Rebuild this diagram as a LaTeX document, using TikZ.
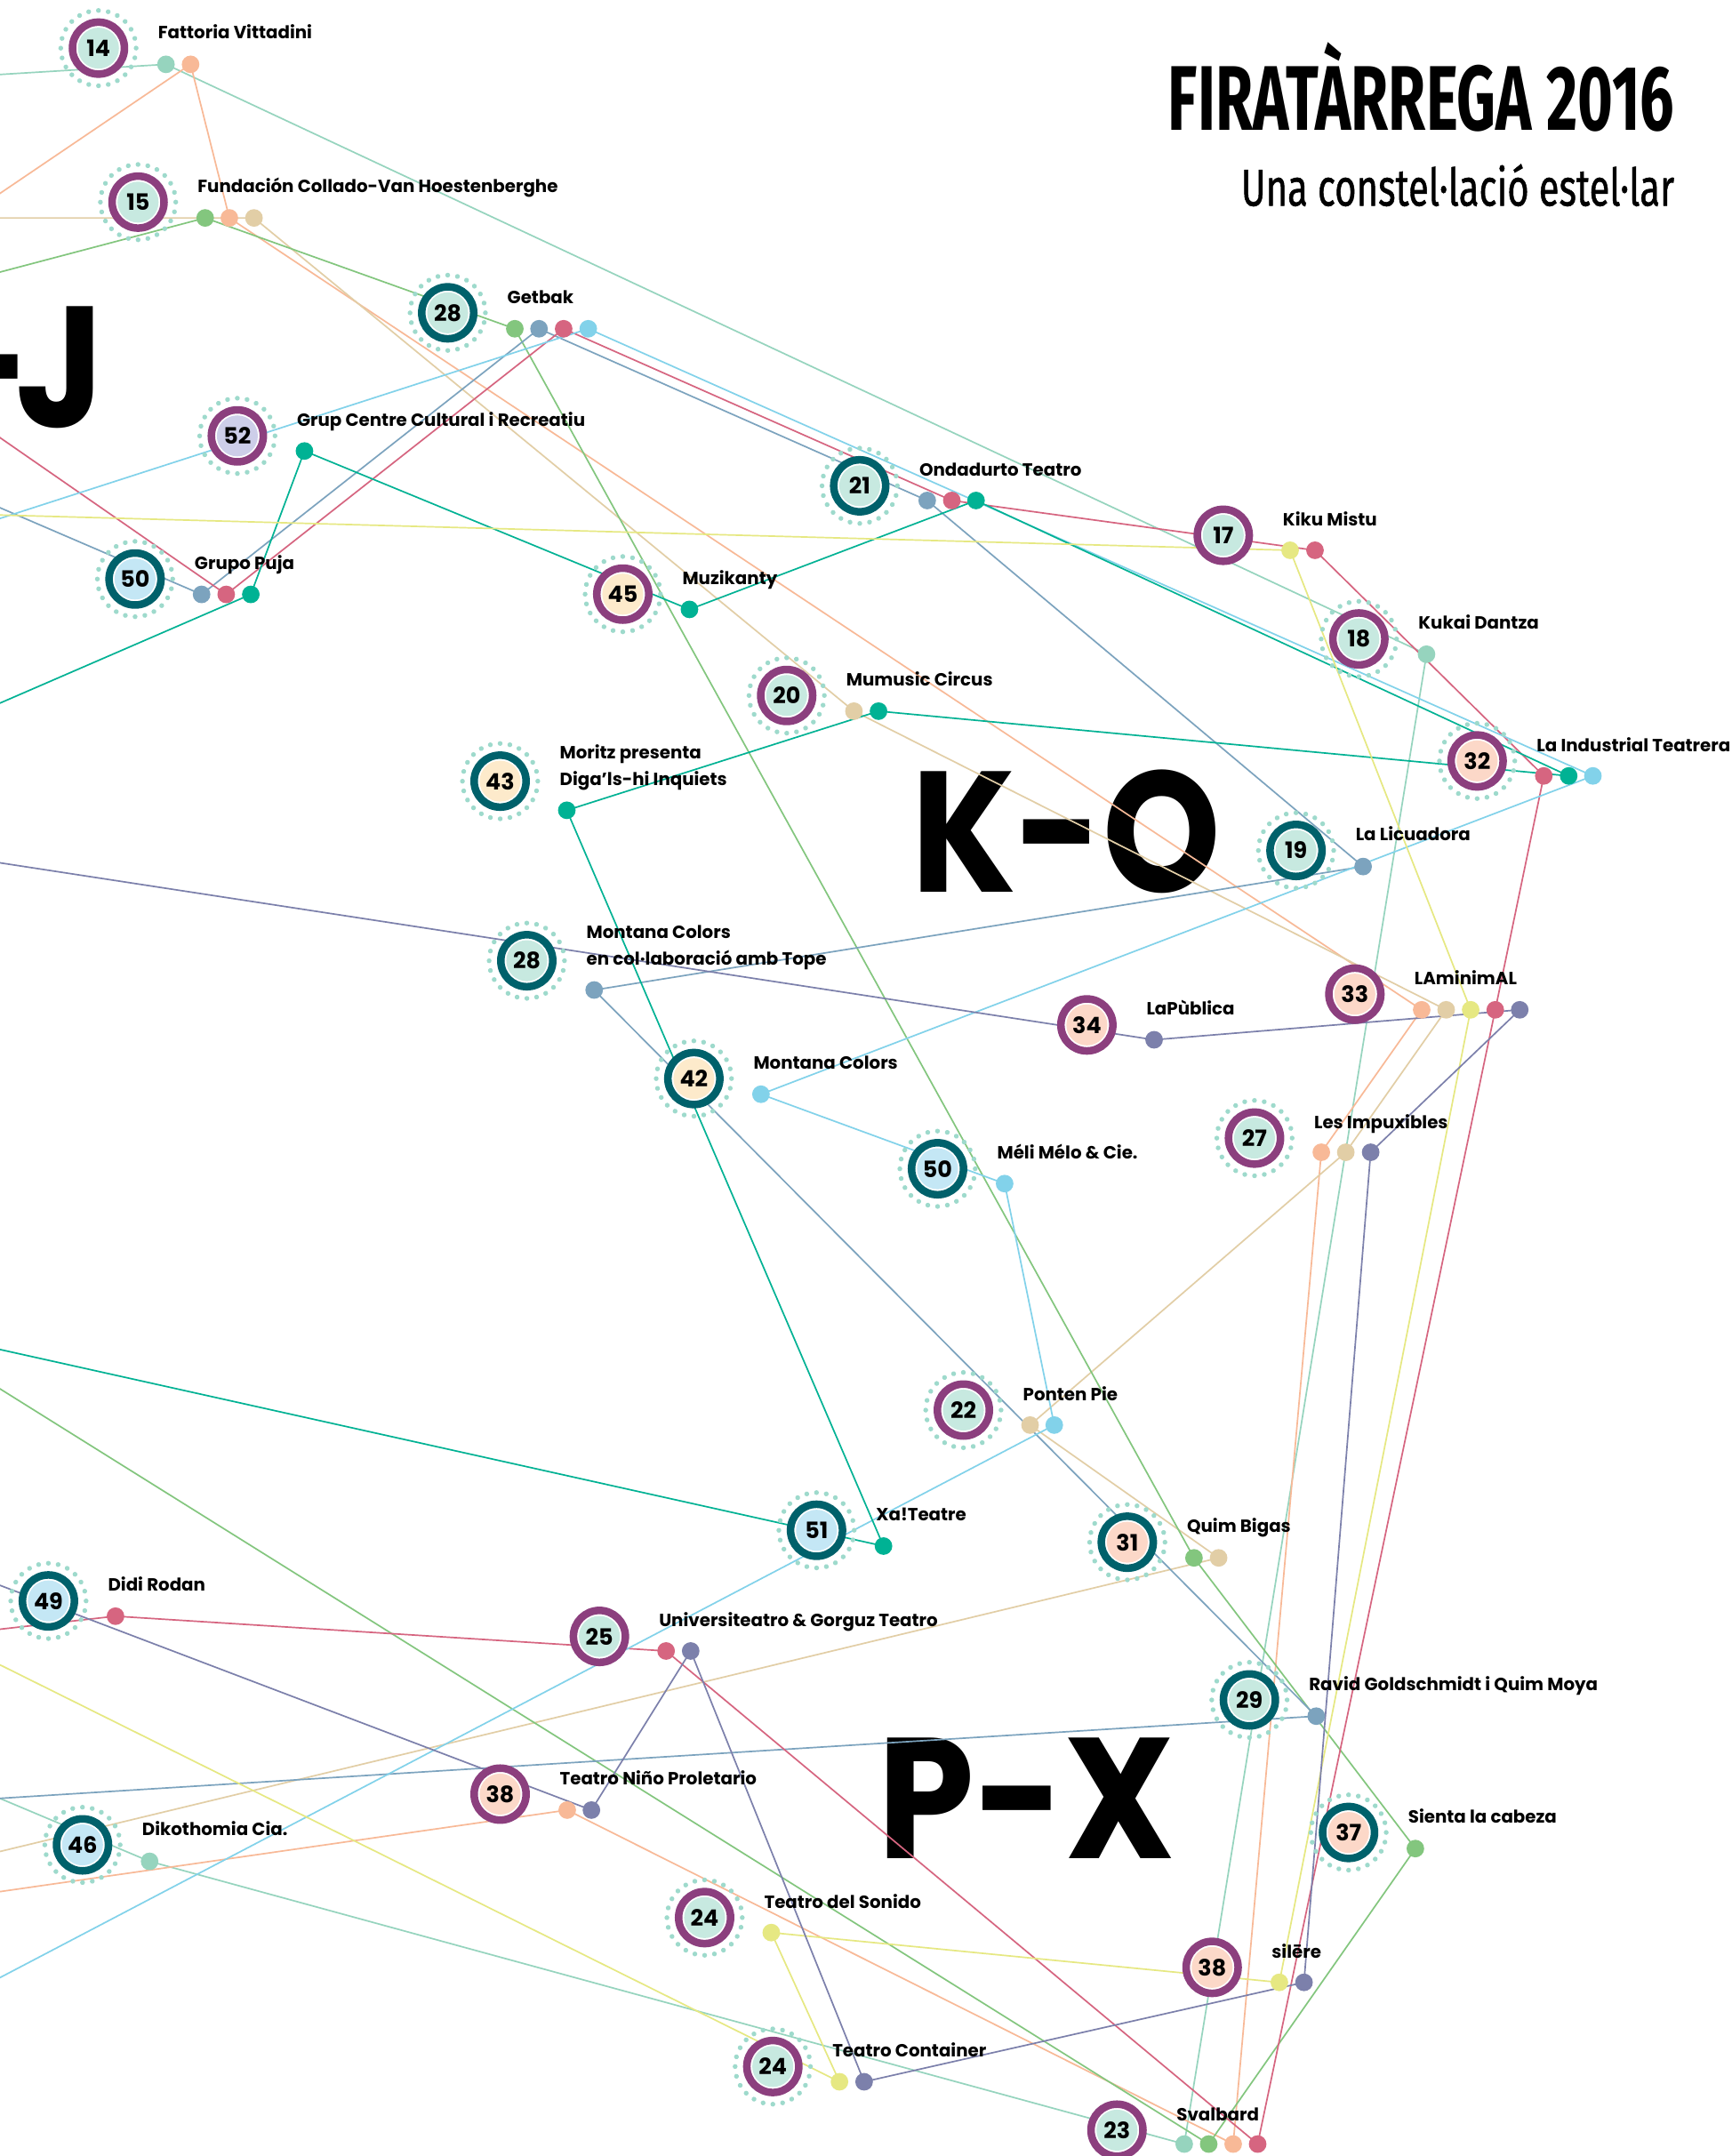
\documentclass[tikz,border=0pt]{standalone}
\usepackage{fontspec}
\usepackage{graphicx}
\setmainfont{Poppins}
\newfontfamily\titlefont{Fira Sans}
\newfontfamily\subfont[FakeBold=1]{Fira Sans}
\definecolor{ringP}{RGB}{140,63,126}
\definecolor{ringT}{RGB}{0,97,107}
\definecolor{paleT}{RGB}{199,233,224}
\definecolor{paleB}{RGB}{196,231,245}
\definecolor{paleP}{RGB}{252,216,200}
\definecolor{paleY}{RGB}{253,234,203}
\definecolor{paleL}{RGB}{205,206,233}
\definecolor{haloC}{RGB}{158,218,204}
\definecolor{cMint}{RGB}{150,212,190}
\definecolor{cPeach}{RGB}{248,185,151}
\definecolor{cTan}{RGB}{226,206,166}
\definecolor{cGreen}{RGB}{131,198,126}
\definecolor{cSlate}{RGB}{124,163,190}
\definecolor{cPink}{RGB}{214,101,128}
\definecolor{cLblue}{RGB}{130,210,234}
\definecolor{cTeal}{RGB}{0,178,148}
\definecolor{cYellow}{RGB}{230,232,130}
\definecolor{cPurple}{RGB}{124,128,171}
\pgfdeclarelayer{letters}
\pgfdeclarelayer{lines}
\pgfsetlayers{letters,lines,main}
\tikzset{
  stn/.style 2 args={circle, inner sep=0pt, minimum size=18.9pt, line width=2.75pt,
    draw=#1, fill=white, font=\bfseries\fontsize{8.2pt}{8.2pt}\selectfont,
    path picture={\fill[#2] (path picture bounding box.center) circle (7.45pt);}},
  halo/.style={circle, inner sep=0pt, minimum size=27.4pt, draw=haloC, line width=1.75pt,
    line cap=round, dash pattern=on 0.01pt off 3.5766pt},
  dot/.style={circle, inner sep=0pt, minimum size=6.4pt, fill=#1, draw=none},
  lbl/.style={anchor=base west, inner sep=0pt, font=\bfseries\fontsize{6.4pt}{7pt}\selectfont},
  ln/.style={draw=#1, line width=0.55pt},
  big/.style={inner sep=0pt, font=\bfseries\fontsize{62.5pt}{62.5pt}\selectfont},
}
\newcommand\Station[7]{\node[stn={#5}{#6}] (#1) at (#2,#3) {#4};
  \node[lbl] (#1-l) at (#2+43,#3-7) {#7};}
\newcommand\StationII[8]{\node[stn={#5}{#6}] (#1) at (#2,#3) {#4};
  \node[lbl] (#1-l) at (#2+43,#3-16) {#7};
  \node[lbl] (#1-m) at (#2+43,#3+3) {#8};}
\newcommand\HaloAt[3]{\node[halo] (#1-h) at (#2,#3) {};}
\begin{document}
\begin{tikzpicture}[x=0.5pt,y=-0.5pt]
\useasboundingbox (0,0) rectangle (1259,1568);
\begin{pgfonlayer}{letters}
\fill[white] (0,0) rectangle (1259,1568);
\node[big, anchor=base east] (bigJ) at (76.5,310.6) {\scalebox{0.9}[1]{-\kern-6.5pt J}};
\node[big, anchor=base] (bigKO) at (775.5,649) {\scalebox{0.872}[1]{K-O}};
\node[big, anchor=base] (bigPX) at (746.5,1352) {\scalebox{0.9}[1]{P-X}};
\end{pgfonlayer}
% title
\node[anchor=base east, inner sep=0pt] (title) at (1218,94.6)
  {\titlefont\bfseries\fontsize{33.4pt}{34pt}\selectfont\resizebox{184pt}{\height}{FIRATÀRREGA 2016}};
\node[anchor=base east, inner sep=0pt] (subtitle) at (1218,149.6)
  {\subfont\fontsize{18.9pt}{19pt}\selectfont\resizebox{157.5pt}{\height}{Una constel·lació estel·lar}};
% halos
\HaloAt{s14}{71.6}{35.0}
\HaloAt{s15}{100.4}{147.0}
\HaloAt{s28g}{325.6}{227.5}
\HaloAt{s52}{172.6}{317.0}
\HaloAt{s50g}{98.2}{421.1}
\HaloAt{s45}{452.9}{432.1}
\HaloAt{s21}{625.2}{353.3}
\HaloAt{s18}{988.2}{464.7}
\HaloAt{s20}{572.1}{505.8}
\HaloAt{s32}{1074.2}{553.4}
\HaloAt{s43}{363.7}{568.1}
\HaloAt{s19}{942.5}{618.5}
\HaloAt{s28m}{383.1}{698.7}
\HaloAt{s42}{504.6}{784.4}
\HaloAt{s50m}{681.8}{850}
\HaloAt{s27}{912.3}{827.7}
\HaloAt{s22}{700.6}{1025.5}
\HaloAt{s51}{593.8}{1112.9}
\HaloAt{s31}{819.8}{1121.6}
\HaloAt{s49}{35.2}{1164.3}
\HaloAt{s29}{908.6}{1236.3}
\HaloAt{s46}{60}{1341.7}
\HaloAt{s37}{980.7}{1332.7}
\HaloAt{s24s}{512.4}{1394.6}
\HaloAt{s24c}{562}{1502.9}
% stations
\Station{s14}{71.6}{35.0}{14}{ringP}{paleT}{Fattoria Vittadini}
\Station{s15}{100.4}{147.0}{15}{ringP}{paleT}{Fundación Collado-Van Hoestenberghe}
\Station{s28g}{325.6}{227.5}{28}{ringT}{paleT}{Getbak}
\Station{s52}{172.6}{317.0}{52}{ringP}{paleL}{Grup Centre Cultural i Recreatiu}
\Station{s50g}{98.2}{421.1}{50}{ringT}{paleB}{Grupo Puja}
\Station{s45}{452.9}{432.1}{45}{ringP}{paleY}{Muzikanty}
\Station{s21}{625.2}{353.3}{21}{ringT}{paleT}{Ondadurto Teatro}
\Station{s17}{889.6}{389.3}{17}{ringP}{paleT}{Kiku Mistu}
\Station{s18}{988.2}{464.7}{18}{ringP}{paleT}{Kukai Dantza}
\Station{s20}{572.1}{505.8}{20}{ringP}{paleT}{Mumusic Circus}
\Station{s32}{1074.2}{553.4}{32}{ringP}{paleP}{La Industrial Teatrera}
\StationII{s43}{363.7}{568.1}{43}{ringT}{paleY}{Moritz presenta}{Diga’ls-hi Inquiets}
\Station{s19}{942.5}{618.5}{19}{ringT}{paleT}{La Licuadora}
\StationII{s28m}{383.1}{698.7}{28}{ringT}{paleT}{Montana Colors}{en col·laboració amb Tope}
\Station{s34}{790.4}{745.4}{34}{ringP}{paleP}{LaPùblica}
\Station{s33}{985.3}{723}{33}{ringP}{paleP}{LAminimAL}
\Station{s42}{504.6}{784.4}{42}{ringT}{paleY}{Montana Colors}
\Station{s50m}{681.8}{850}{50}{ringT}{paleB}{Méli Mélo \& Cie.}
\Station{s27}{912.3}{827.7}{27}{ringP}{paleT}{Les Impuxibles}
\Station{s22}{700.6}{1025.5}{22}{ringP}{paleT}{Ponten Pie}
\Station{s51}{593.8}{1112.9}{51}{ringT}{paleB}{Xa!Teatre}
\Station{s31}{819.8}{1121.6}{31}{ringT}{paleP}{Quim Bigas}
\Station{s49}{35.2}{1164.3}{49}{ringT}{paleB}{Didi Rodan}
\Station{s25}{435.9}{1190.1}{25}{ringP}{paleT}{Universiteatro \& Gorguz Teatro}
\Station{s29}{908.6}{1236.3}{29}{ringT}{paleT}{Ravid Goldschmidt i Quim Moya}
\Station{s38n}{363.7}{1304.8}{38}{ringP}{paleP}{Teatro Niño Proletario}
\Station{s46}{60}{1341.7}{46}{ringT}{paleB}{Dikothomia Cia.}
\Station{s37}{980.7}{1332.7}{37}{ringT}{paleP}{Sienta la cabeza}
\Station{s24s}{512.4}{1394.6}{24}{ringP}{paleT}{Teatro del Sonido}
\Station{s38s}{881.5}{1430.8}{38}{ringP}{paleP}{silēre}
\Station{s24c}{562}{1502.9}{24}{ringP}{paleT}{Teatro Container}
\Station{s23}{812.3}{1549.2}{23}{ringP}{paleT}{Svalbard}
% dots
\node[dot=cMint] (s14a) at (120.7,46.8) {};
\node[dot=cPeach] (s14b) at (138.6,46.8) {};
\node[dot=cGreen] (s15a) at (149.2,158.5) {};
\node[dot=cPeach] (s15b) at (166.8,158.5) {};
\node[dot=cTan] (s15c) at (184.7,158.5) {};
\node[dot=cGreen] (s28ga) at (374.4,239.1) {};
\node[dot=cSlate] (s28gb) at (392,239.1) {};
\node[dot=cPink] (s28gc) at (409.9,239.1) {};
\node[dot=cLblue] (s28gd) at (427.8,239.1) {};
\node[dot=cTeal] (s52a) at (221.4,328) {};
\node[dot=cSlate] (s50ga) at (146.6,432.3) {};
\node[dot=cPink] (s50gb) at (164.5,432.3) {};
\node[dot=cTeal] (s50gc) at (182.4,432.3) {};
\node[dot=cTeal] (s45a) at (501.4,443.2) {};
\node[dot=cSlate] (s21a) at (674.3,364) {};
\node[dot=cPink] (s21b) at (692.2,364) {};
\node[dot=cTeal] (s21c) at (709.8,364) {};
\node[dot=cYellow] (s17a) at (938.2,400.2) {};
\node[dot=cPink] (s17b) at (956.3,400.2) {};
\node[dot=cMint] (s18a) at (1037.4,475.8) {};
\node[dot=cTan] (s20a) at (621,517.2) {};
\node[dot=cTeal] (s20b) at (638.9,517.2) {};
\node[dot=cPink] (s32a) at (1122.7,564.3) {};
\node[dot=cTeal] (s32b) at (1140.8,564.3) {};
\node[dot=cLblue] (s32c) at (1158.4,564.3) {};
\node[dot=cTeal] (s43a) at (412.2,589.3) {};
\node[dot=cSlate] (s19a) at (991.3,630.2) {};
\node[dot=cSlate] (s28ma) at (432.1,720) {};
\node[dot=cPurple] (s34a) at (839.3,756.2) {};
\node[dot=cPeach] (s33a) at (1033.9,734.4) {};
\node[dot=cTan] (s33b) at (1051.7,734.4) {};
\node[dot=cYellow] (s33c) at (1069.5,734.4) {};
\node[dot=cPink] (s33d) at (1087.4,734.4) {};
\node[dot=cPurple] (s33e) at (1105.2,734.4) {};
\node[dot=cLblue] (s42a) at (553.4,795.8) {};
\node[dot=cLblue] (s50ma) at (730.6,860.8) {};
\node[dot=cPeach] (s27a) at (960.9,838) {};
\node[dot=cTan] (s27b) at (978.7,838) {};
\node[dot=cPurple] (s27c) at (996.8,838) {};
\node[dot=cTan] (s22a) at (749.1,1036.4) {};
\node[dot=cLblue] (s22b) at (766.7,1036.4) {};
\node[dot=cTeal] (s51a) at (642.5,1124.4) {};
\node[dot=cGreen] (s31a) at (868.3,1133) {};
\node[dot=cTan] (s31b) at (886.2,1133) {};
\node[dot=cPink] (s49a) at (84,1175.4) {};
\node[dot=cPink] (s25a) at (484.4,1200.7) {};
\node[dot=cPurple] (s25b) at (502.3,1200.7) {};
\node[dot=cSlate] (s29a) at (957.2,1248.1) {};
\node[dot=cPeach] (s38na) at (412.5,1316.4) {};
\node[dot=cPurple] (s38nb) at (430.1,1316.4) {};
\node[dot=cMint] (s46a) at (108.8,1353.7) {};
\node[dot=cGreen] (s37a) at (1029.3,1344.4) {};
\node[dot=cYellow] (s24sa) at (560.9,1405.5) {};
\node[dot=cYellow] (s38sa) at (930.4,1441.7) {};
\node[dot=cPurple] (s38sb) at (948.3,1441.7) {};
\node[dot=cYellow] (s24ca) at (610.5,1514) {};
\node[dot=cPurple] (s24cb) at (628.4,1514) {};
\node[dot=cMint] (s23a) at (861.2,1559.3) {};
\node[dot=cGreen] (s23b) at (879,1559.3) {};
\node[dot=cPeach] (s23c) at (896.8,1559.3) {};
\node[dot=cPink] (s23d) at (914.6,1559.3) {};
% connectors
\begin{pgfonlayer}{lines}
\coordinate (eMintA) at (-2,54.3);
\coordinate (eMintB) at (-2,1307.1);
\coordinate (ePeachA) at (-2,142.0);
\coordinate (ePeachB) at (-2,1376.0);
\coordinate (eTanA) at (-2,158.5);
\coordinate (eTanB) at (-2,1347.0);
\coordinate (eGreenA) at (-2,198.4);
\coordinate (eGreenB) at (-2,1008.8);
\coordinate (eSlateA) at (-2,368.4);
\coordinate (eSlateB) at (-2,1308.0);
\coordinate (ePinkA) at (-2,316.9);
\coordinate (ePinkB) at (-2,1185.1);
\coordinate (eLblueA) at (-2,377.7);
\coordinate (eLblueB) at (-2,1439.3);
\coordinate (eTealA) at (-2,512.2);
\coordinate (eTealB) at (-2,981.0);
\coordinate (eYellowA) at (-2,374.5);
\coordinate (eYellowB) at (-2,1209.8);
\coordinate (ePurpleA) at (-2,627.2);
\coordinate (ePurpleB) at (-2,1152.2);
\draw[ln=cMint] (eMintA) -- (s14a.center) -- (s18a.center) -- (s23a.center);
\draw[ln=cMint] (eMintB) -- (s46a.center) -- (s23a.center);
\draw[ln=cPeach] (ePeachA) -- (s14b.center) -- (s15b.center) -- (s33a.center) -- (s27a.center) -- (s23c.center);
\draw[ln=cPeach] (ePeachB) -- (s38na.center) -- (s23c.center);
\draw[ln=cTan] (eTanA) -- (s15c.center) -- (s20a.center) -- (s33b.center) -- (s27b.center) -- (s22a.center) -- (s31b.center) -- (eTanB);
\draw[ln=cGreen] (eGreenA) -- (s15a.center) -- (s28ga.center) -- (s31a.center) -- (s37a.center) -- (s23b.center);
\draw[ln=cGreen] (eGreenB) -- (s23b.center);
\draw[ln=cSlate] (eSlateA) -- (s50ga.center) -- (s28gb.center) -- (s21a.center) -- (s19a.center) -- (s28ma.center) -- (s29a.center) -- (eSlateB);
\draw[ln=cPink] (ePinkA) -- (s50gb.center) -- (s28gc.center) -- (s21b.center) -- (s17b.center) -- (s32a.center) -- (s33d.center) -- (s23d.center);
\draw[ln=cPink] (ePinkB) -- (s49a.center) -- (s25a.center) -- (s23d.center);
\draw[ln=cLblue] (eLblueA) -- (s28gd.center) -- (s32c.center) -- (s42a.center) -- (s50ma.center) -- (s22b.center) -- (eLblueB);
\draw[ln=cTeal] (eTealA) -- (s50gc.center) -- (s52a.center) -- (s45a.center) -- (s21c.center) -- (s32b.center) -- (s20b.center) -- (s43a.center) -- (s51a.center) -- (eTealB);
\draw[ln=cYellow] (eYellowA) -- (s17a.center) -- (s33c.center) -- (s38sa.center) -- (s24sa.center) -- (s24ca.center) -- (eYellowB);
\draw[ln=cPurple] (ePurpleA) -- (s34a.center) -- (s33e.center) -- (s27c.center) -- (s38sb.center) -- (s24cb.center) -- (s25b.center) -- (s38nb.center) -- (ePurpleB);
\end{pgfonlayer}
\end{tikzpicture}
\end{document}
